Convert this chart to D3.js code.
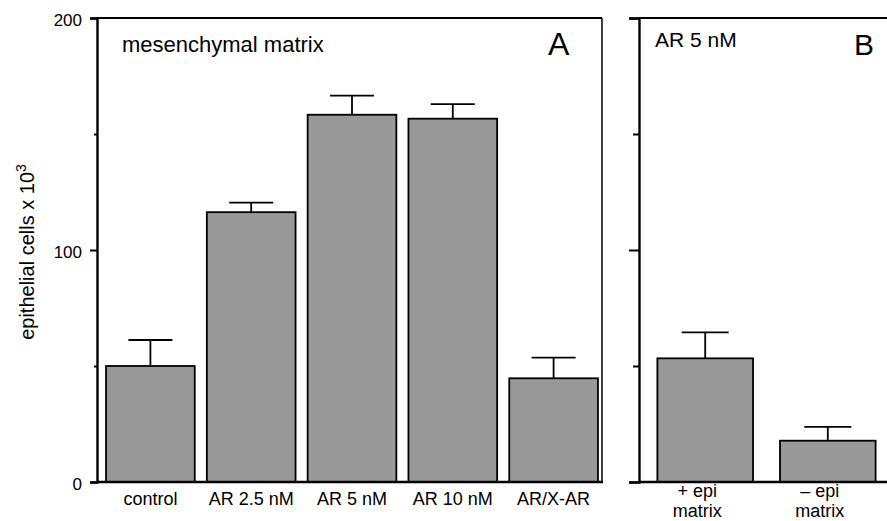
<!DOCTYPE html>
<html>
<head>
<meta charset="utf-8">
<script src="https://cdn.jsdelivr.net/npm/d3@7"></script>
<style>
  body { margin: 0; background: #fff; }
  svg text { font-family: "Liberation Sans", Arial, sans-serif; fill: #000; }
</style>
</head>
<body>
<svg id="chart" width="887" height="521"></svg>
<script>
// panel A - mesenchymal matrix
const catsA = ["control", "AR 2.5 nM", "AR 5 nM", "AR 10 nM", "AR/X-AR"];
const meanA = [50, 116.3, 158.3, 156.6, 44.7];
const errA = [61.2, 120.4, 166.5, 162.9, 53.6];

// panel B - AR 5 nM
const catsB = [["+ epi", "matrix"], ["\u2013 epi", "matrix"]];
const meanB = [53.3, 17.8];
const errB = [64.5, 23.8];

const majorTicks = [0, 100, 200];
const minorTicks = [50, 150];

const svg = d3.select("#chart");

// y scale shared by both panels
const y = d3.scaleLinear().domain([0, 200]).range([482, 18]);

const xA = d3.scaleBand().domain(catsA).range([100, 604]).paddingInner(0.12).paddingOuter(0.06);
const xB = d3.scaleBand().domain(d3.range(catsB.length)).range([639, 894]).paddingInner(0.22).paddingOuter(0.15);

const axA = 97, rightA = 602, axB = 639;

// ---------- panel A ----------
const gA = svg.append("g");

// bars
gA.selectAll("rect")
  .data(meanA)
  .enter()
  .append("rect")
    .attr("x", (d, i) => xA(catsA[i]))
    .attr("width", xA.bandwidth())
    .attr("y", d => y(d))
    .attr("height", d => y(0) - y(d))
    .style("fill", "#999999")
    .style("stroke", "#000")
    .style("stroke-width", 1.8);

// error bars
const capA = 44;
meanA.forEach((d, i) => {
    const cx = xA(catsA[i]) + xA.bandwidth() / 2;
    gA.append("line")
        .attr("x1", cx).attr("x2", cx)
        .attr("y1", y(d)).attr("y2", y(errA[i]))
        .style("stroke", "#000").style("stroke-width", 1.8);
    gA.append("line")
        .attr("x1", cx - capA / 2).attr("x2", cx + capA / 2)
        .attr("y1", y(errA[i])).attr("y2", y(errA[i]))
        .style("stroke", "#000").style("stroke-width", 1.8);
});

// frame: top, right, bottom
gA.append("line").attr("x1", axA).attr("x2", rightA).attr("y1", y(200)).attr("y2", y(200))
    .style("stroke", "#000").style("stroke-width", 2);
gA.append("line").attr("x1", rightA).attr("x2", rightA).attr("y1", y(200)).attr("y2", y(0))
    .style("stroke", "#000").style("stroke-width", 1.5);
gA.append("line").attr("x1", axA).attr("x2", rightA + 1).attr("y1", y(0)).attr("y2", y(0))
    .style("stroke", "#000").style("stroke-width", 2.4);

// left axis with labels
const yAxisA = gA.append("g")
    .attr("transform", `translate(${axA},0)`)
    .call(d3.axisLeft(y).tickValues(majorTicks).tickSize(7).tickPadding(8).tickFormat(d3.format("d")))
    .attr("font-size", 17)
    .attr("font-family", "'Liberation Sans', Arial, sans-serif");
yAxisA.select(".domain").style("stroke-width", 2.4);
yAxisA.selectAll(".tick line").style("stroke-width", 2);
yAxisA.selectAll(".tick text")
    .attr("dy", "0.45em")
    .style("font-size", "17px");

gA.append("g")
    .attr("transform", `translate(${axA},0)`)
    .call(d3.axisLeft(y).tickValues(minorTicks).tickSize(3).tickFormat(""))
    .call(g => g.select(".domain").remove())
    .selectAll(".tick line").style("stroke-width", 2);

// x labels
gA.selectAll(".xlab")
  .data(catsA)
  .enter()
  .append("text")
    .attr("class", "xlab")
    .attr("x", d => xA(d) + xA.bandwidth() / 2)
    .attr("y", 505)
    .attr("text-anchor", "middle")
    .style("font-size", "18px")
    .text(d => d);

gA.append("text").attr("x", 122).attr("y", 52).style("font-size", "22px").text("mesenchymal matrix");
gA.append("text").attr("x", 548).attr("y", 55).style("font-size", "32px").text("A");

// y axis title
const yt = svg.append("text")
    .attr("transform", "translate(34,252) rotate(-90)")
    .attr("text-anchor", "middle")
    .style("font-size", "20px");
yt.append("tspan").text("epithelial cells x 10");
yt.append("tspan").attr("dy", -8).style("font-size", "14px").text("3");

// ---------- panel B ----------
const gB = svg.append("g");

gB.selectAll("rect")
  .data(meanB)
  .enter()
  .append("rect")
    .attr("x", (d, i) => xB(i))
    .attr("width", xB.bandwidth())
    .attr("y", d => y(d))
    .attr("height", d => y(0) - y(d))
    .style("fill", "#999999")
    .style("stroke", "#000")
    .style("stroke-width", 1.8);

const capB = 47;
meanB.forEach((d, i) => {
    const cx = xB(i) + xB.bandwidth() / 2;
    gB.append("line")
        .attr("x1", cx).attr("x2", cx)
        .attr("y1", y(d)).attr("y2", y(errB[i]))
        .style("stroke", "#000").style("stroke-width", 1.8);
    gB.append("line")
        .attr("x1", cx - capB / 2).attr("x2", cx + capB / 2)
        .attr("y1", y(errB[i])).attr("y2", y(errB[i]))
        .style("stroke", "#000").style("stroke-width", 1.8);
});

gB.append("line").attr("x1", axB).attr("x2", 887).attr("y1", y(200)).attr("y2", y(200))
    .style("stroke", "#000").style("stroke-width", 2);
gB.append("line").attr("x1", axB).attr("x2", 887).attr("y1", y(0)).attr("y2", y(0))
    .style("stroke", "#000").style("stroke-width", 2.4);

const yAxisB = gB.append("g")
    .attr("transform", `translate(${axB},0)`)
    .call(d3.axisLeft(y).tickValues(majorTicks).tickSize(10).tickFormat(""));
yAxisB.select(".domain").style("stroke-width", 2.4);
yAxisB.selectAll(".tick line").style("stroke-width", 2);

gB.append("g")
    .attr("transform", `translate(${axB},0)`)
    .call(d3.axisLeft(y).tickValues(minorTicks).tickSize(6).tickFormat(""))
    .call(g => g.select(".domain").remove())
    .selectAll(".tick line").style("stroke-width", 2);

// two-line x labels
catsB.forEach((lines, i) => {
    const cx = xB(i) + xB.bandwidth() / 2 - 8;
    lines.forEach((t, j) => {
        gB.append("text")
            .attr("x", cx)
            .attr("y", 497 + j * 20)
            .attr("text-anchor", "middle")
            .style("font-size", "18px")
            .text(t);
    });
});

gB.append("text").attr("x", 655).attr("y", 47).style("font-size", "21px").text("AR 5 nM");
gB.append("text").attr("x", 854).attr("y", 55).style("font-size", "30px").text("B");
</script>
</body>
</html>
